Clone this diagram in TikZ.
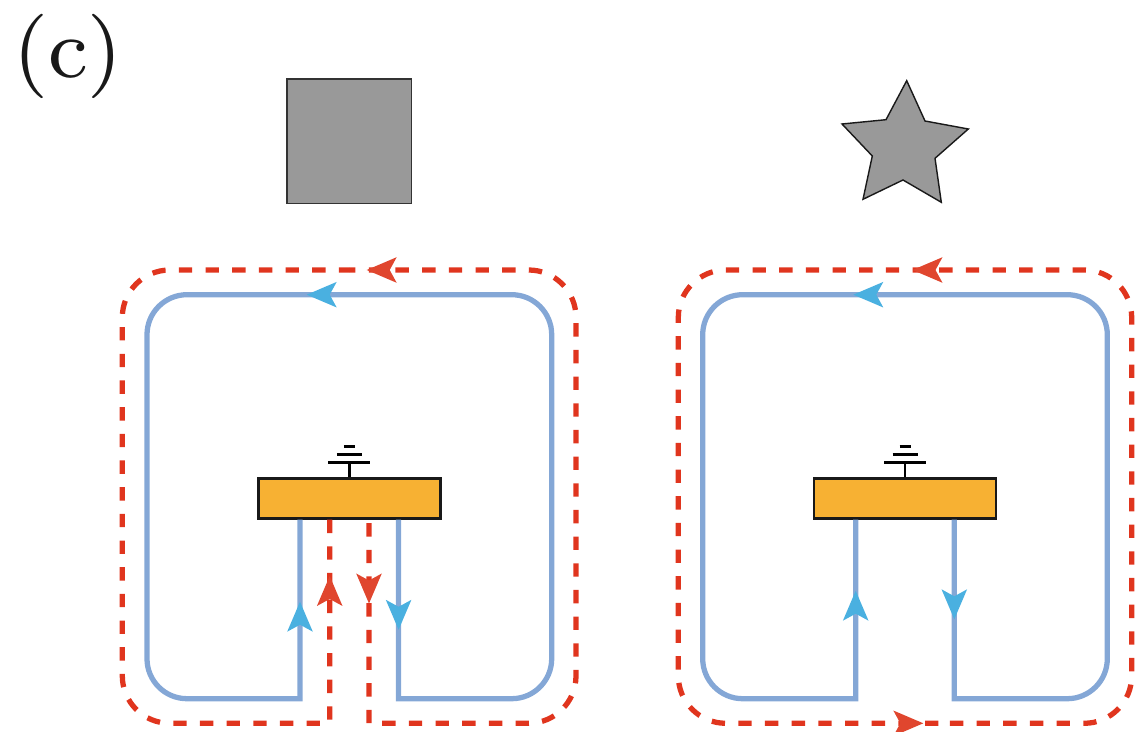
\documentclass[tikz,border=0pt]{standalone}
\usetikzlibrary{positioning}
\definecolor{wireblue}{HTML}{84A7D6}
\definecolor{headblue}{HTML}{4AB0E0}
\definecolor{wirered}{HTML}{E0351E}
\definecolor{headred}{HTML}{E0462E}
\definecolor{boxorange}{HTML}{F7B133}
\definecolor{fillgray}{HTML}{999999}
\font\labelfont=cmr8 at 48pt
\tikzset{
  bluewire/.style={draw=wireblue, line width=3pt, miter limit=10},
  redwire/.style={draw=wirered, line width=3pt, dash pattern=on 7.6pt off 7.58pt},
  chipbox/.style={draw=black!90, fill=boxorange, line width=1.6pt, minimum width=3.64cm, minimum height=0.79cm, inner sep=0pt},
  graysquare/.style={draw=black!80, fill=fillgray, line width=0.8pt, minimum size=2.5cm, inner sep=0pt},
  gnd/.style={draw=black, line width=1.6pt},
  head/.pic={\fill[pic actions] (0,0) -- (-30,-12.8) -- (-23,0) -- (-30,12.8) -- cycle;}
}
\begin{document}
\begin{tikzpicture}[x=0.02cm, y=-0.02cm]
  \useasboundingbox (0,0) rectangle (1139,732);

  \node [inner sep=0pt, text=black!90] (label) at (68,56) {\labelfont (c)};

  % the two shapes
  \node [graysquare] (square) at (349.3,141.3) {};
  \draw[draw=black!90, fill=fillgray, line width=0.8pt] (906.7,80.7) -- (925,121) -- (968.3,129) -- (935,158.3) -- (941.3,202.3) -- (903,180) -- (863,199.3) -- (872.3,156) -- (842,124) -- (886,119.7) -- cycle;

  % chips
  \node [chipbox] (chipL) at (349.3,498.5) {};
  \node [chipbox] (chipR) at (905,498.5) {};

  \coordinate (upL) at ([xshift=-0.986cm]chipL.south);
  \coordinate (downL) at ([xshift=0.986cm]chipL.south);
  \coordinate (upR) at ([xshift=-0.986cm]chipR.south);
  \coordinate (downR) at ([xshift=0.986cm]chipR.south);
  \coordinate (redupL) at ([xshift=-0.392cm]chipL.south);
  \coordinate (reddownL) at ([xshift=0.394cm, yshift=-0.07cm]chipL.south);
  \coordinate (gndL) at (349.3,462.3);
  \coordinate (gndR) at (905,462.3);

  % blue loops
  \draw[bluewire] (upL) -- (300,698.7) [rounded corners=0.8cm] -- (147,698.7) -- (147,294.7) -- (551.7,294.7) -- (551.7,698.7) [sharp corners] -- (398.6,698.7) -- (downL);
  \draw[bluewire] (upR) -- (855.7,698.7) [rounded corners=0.8cm] -- (702.7,698.7) -- (702.7,294.7) -- (1107.3,294.7) -- (1107.3,698.7) [sharp corners] -- (954.3,698.7) -- (downR);

  % red loops
  \draw[redwire] (redupL) -- (329.7,723.3) [rounded corners=0.95cm] -- (122.3,723.3) -- (122.3,270) -- (349,270);
  \draw[redwire] (reddownL) -- (369,723.3) [rounded corners=0.95cm] -- (576,723.3) -- (576,270) -- (349,270);
  \draw[redwire, rounded corners=0.95cm] (902.4,723.3) -- (1131.7,723.3) -- (1131.7,270) -- (678.3,270) -- (678.3,723.3) -- cycle;

  % ground symbols
  \draw[gnd] (chipL.north) -- (gndL);
  \draw[gnd] (gndL) ++(-21,0) -- ++(42,0);
  \draw[gnd] (gndL) ++(-12.5,-8) -- ++(25,0);
  \draw[gnd] (gndL) ++(-5.5,-16) -- ++(11,0);
  \draw[gnd] (chipR.north) -- (gndR);
  \draw[gnd] (gndR) ++(-21,0) -- ++(42,0);
  \draw[gnd] (gndR) ++(-12.5,-8) -- ++(25,0);
  \draw[gnd] (gndR) ++(-5.5,-16) -- ++(11,0);

  % arrow heads
  \pic[fill=headblue, rotate=180] at (306.7,294.7) {head};
  \pic[fill=headblue, rotate=90] at (300,601.7) {head};
  \pic[fill=headblue, rotate=270] at (398.6,629.8) {head};
  \pic[fill=headred, rotate=180] at (366.7,270) {head};
  \pic[fill=headred, rotate=90] at (329.7,576) {head};
  \pic[fill=headred, rotate=270] at (369,603.5) {head};

  \pic[fill=headblue, rotate=180] at (853.3,294.7) {head};
  \pic[fill=headblue, rotate=90] at (855.7,590.7) {head};
  \pic[fill=headblue, rotate=270] at (954.3,619.3) {head};
  \pic[fill=headred, rotate=180] at (912.5,270) {head};
  \pic[fill=headred, rotate=0] at (923.3,723.3) {head};
\end{tikzpicture}
\end{document}
